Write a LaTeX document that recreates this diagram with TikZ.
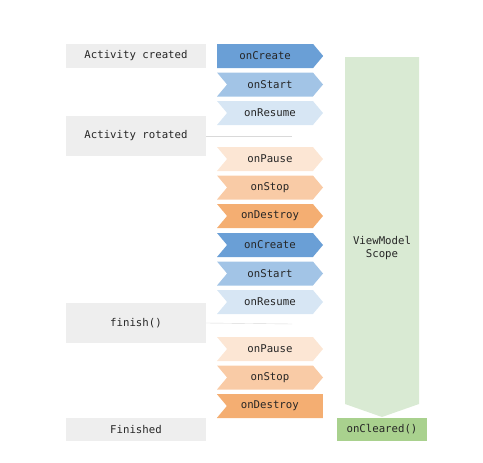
\documentclass[tikz,border=0pt]{standalone}
\usepackage{fontspec}
\setmonofont{DejaVu Sans Mono}
\usepackage{xcolor}
\usetikzlibrary{shapes.symbols, positioning}
\definecolor{CreateBlue}{HTML}{6A9FD6}
\definecolor{StartBlue}{HTML}{A2C4E6}
\definecolor{ResumeBlue}{HTML}{D7E6F4}
\definecolor{PauseOrange}{HTML}{FCE6D4}
\definecolor{StopOrange}{HTML}{F9CBA6}
\definecolor{DestroyOrange}{HTML}{F4AE72}
\definecolor{ScopeGreen}{HTML}{D9EAD3}
\definecolor{ClearGreen}{HTML}{A9D18E}

\begin{document}
\begin{tikzpicture}[x=1pt, y=-1pt, font=\ttfamily\fontsize{10.7}{13}\selectfont, text=black!85,
    statebox/.style={fill=gray!13, minimum width=140pt, inner sep=0pt},
    hook/.style={signal, signal from=west, signal to=east, signal pointer angle=100,
        minimum width=106pt, minimum height=24pt, inner sep=0pt}]
    \useasboundingbox (0,0) rectangle (483,463);

    % Zustaende der Activity (links)
    \node[statebox, minimum height=24pt] (created) at (136,56) {Activity created};
    \node[statebox, minimum height=40pt] (rotated) at (136,136) {Activity rotated};
    \node[statebox, minimum height=40pt] (finish) at (136,323) {finish()};
    \node[statebox, minimum height=23pt] (finished) at (136,429.5) {Finished};

    % erster Durchlauf
    \node[hook, signal from=nowhere, anchor=west, fill=CreateBlue] (create1) at (217,56) {onCreate};
    \node[hook, fill=StartBlue] (start1) at (270,84.5) {onStart};
    \node[hook, fill=ResumeBlue] (resume1) at (270,113) {onResume};

    % Rotation
    \coordinate (rotend) at (292,136);
    \draw[gray!30] (rotated.east) -- (rotend);
    \node[hook, fill=PauseOrange] (pause1) at (270,159) {onPause};
    \node[hook, fill=StopOrange] (stop1) at (270,187.5) {onStop};
    \node[hook, fill=DestroyOrange] (destroy1) at (270,216) {onDestroy};

    % zweiter Durchlauf
    \node[hook, fill=CreateBlue] (create2) at (270,245) {onCreate};
    \node[hook, fill=StartBlue] (start2) at (270,273.5) {onStart};
    \node[hook, fill=ResumeBlue] (resume2) at (270,302) {onResume};

    % finish()
    \coordinate (finend) at (292,324);
    \draw[gray!30] (finish.east) -- (finend);
    \node[hook, fill=PauseOrange] (pause2) at (270,349) {onPause};
    \node[hook, fill=StopOrange] (stop2) at (270,377.5) {onStop};
    \node[hook, signal to=nowhere, anchor=east, fill=DestroyOrange] (destroy2) at (323,406) {onDestroy\rule{10pt}{0pt}};

    % ViewModel Scope
    \fill[ScopeGreen] (345,57) -- (419,57) -- (419,404) -- (382,417) -- (345,404) -- cycle;
    \node[align=center] (scopelbl) at (382,248) {ViewModel\\Scope};
    \node[fill=ClearGreen, minimum width=90pt, minimum height=23pt, inner sep=0pt] (cleared) at (382,429.5) {onCleared()};
\end{tikzpicture}
\end{document}
